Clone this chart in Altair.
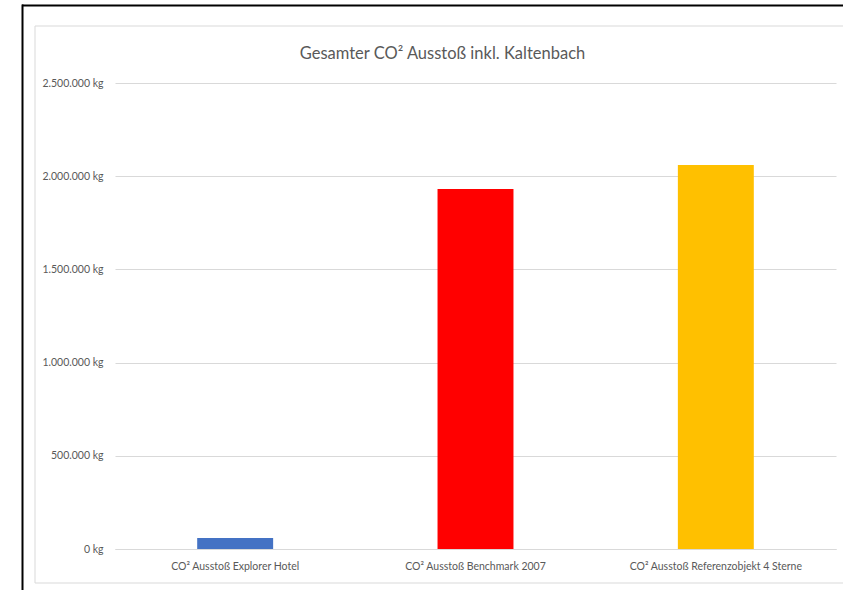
import altair as alt
import pandas as pd

categories = ["CO² Ausstoß Explorer Hotel", "CO² Ausstoß Benchmark 2007", "CO² Ausstoß Referenzobjekt 4 Sterne"]
values = [59000, 1931000, 2060000]
colors = ["#4472C4", "#FF0000", "#FFC000"]
y_ticks = [0, 500000, 1000000, 1500000, 2000000, 2500000]
title_text = "Gesamter CO² Ausstoß inkl. Kaltenbach"

df = pd.DataFrame({"cat": categories, "val": values, "col": colors})

FONT = "Lato"
TXT = "#595959"
GRID = "#d9d9d9"

bars = alt.Chart(df).mark_bar().encode(
    x=alt.X("cat:N", sort=categories,
            scale=alt.Scale(paddingInner=0.684, paddingOuter=0.342),
            axis=alt.Axis(title="", labelAngle=0, ticks=False, domainColor=GRID,
                          labelPadding=12, labelFontSize=10.5, labelColor=TXT, labelFont=FONT,
                          labelLimit=400)),
    y=alt.Y("val:Q", scale=alt.Scale(domain=[0, 2500000], nice=False),
            axis=alt.Axis(title="", values=y_ticks, grid=True, gridColor=GRID, domain=False,
                          ticks=False, labelPadding=12, labelFontSize=10.5, labelColor=TXT,
                          labelFont=FONT,
                          labelExpr="replace(format(datum.value, ',d'), /,/g, '.') + ' kg'")),
    color=alt.Color("col:N", scale=None),
)

one = pd.DataFrame({"a": [0]})
gray_frame = alt.Chart(one).mark_rect(fillOpacity=0, stroke=GRID, strokeWidth=1).encode(
    x=alt.value(-80), x2=alt.value(740), y=alt.value(-57), y2=alt.value(500)
)
black_top = alt.Chart(one).mark_rule(color="black", strokeWidth=2).encode(
    x=alt.value(-93), x2=alt.value(740), y=alt.value(-77.5)
)
black_left = alt.Chart(one).mark_rule(color="black", strokeWidth=2).encode(
    x=alt.value(-92.5), y=alt.value(-78.5), y2=alt.value(520)
)

chart = alt.layer(gray_frame, black_top, black_left, bars).properties(
    width=721, height=466,
    autosize="none",
    padding={"left": 115, "top": 83, "right": 7, "bottom": 41},
    title=alt.TitleParams(title_text, fontSize=16.5, font=FONT, color=TXT, fontWeight="normal",
                          anchor="middle", dx=-33, offset=0, dy=59),
).configure(background="white").configure_view(stroke=None)

chart.save("out.html", embed_options={"renderer": "svg", "actions": False})
